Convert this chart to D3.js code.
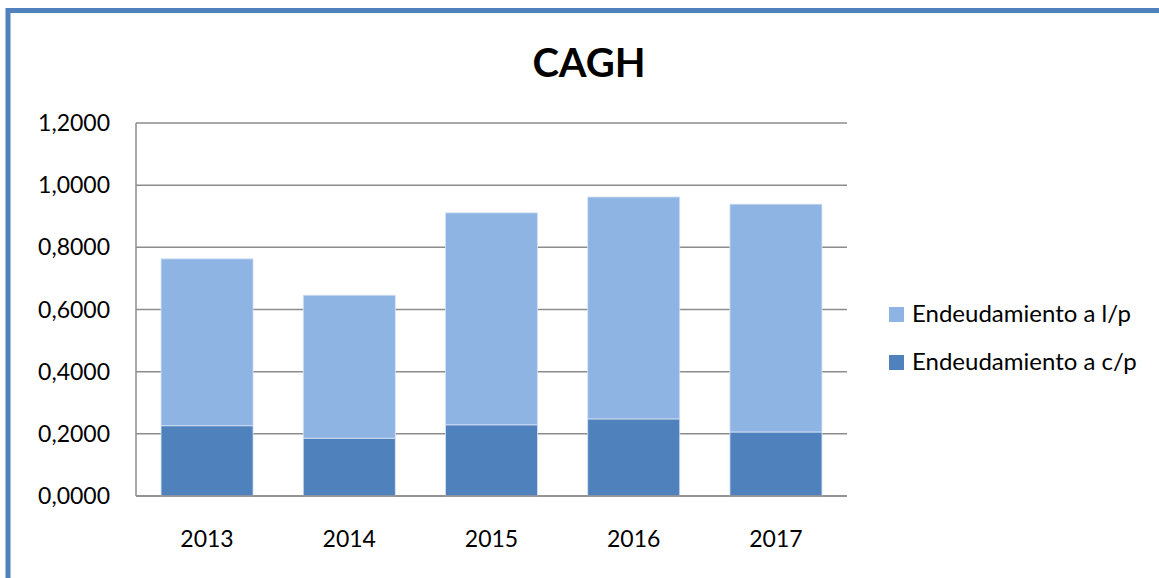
<!DOCTYPE html>
<html>
<head>
<meta charset="utf-8">
<script src="https://cdn.jsdelivr.net/npm/d3@7"></script>
<style>
    body { margin: 0; background: #fff; }
    svg text { font-family: Lato, "Open Sans", sans-serif; fill: #000; }
</style>
</head>
<body>
<script>
            // chart data
            const years = ["2013", "2014", "2015", "2016", "2017"];
            const cortoPlazo = [0.226, 0.186, 0.229, 0.248, 0.206];   // Endeudamiento a c/p
            const largoPlazo = [0.537, 0.460, 0.682, 0.714, 0.733];   // Endeudamiento a l/p
            const yTicks = [0, 0.2, 0.4, 0.6, 0.8, 1.0, 1.2];
            const seriesNames = ["Endeudamiento a c/p", "Endeudamiento a l/p"];
            const seriesColors = ["#4f81bd", "#8eb4e3"];

            var width = 1159, height = 578;
            var margin = { left: 136, right: 312, top: 123, bottom: 82 };

            var svg = d3.select('body').append('svg')
                .attr('width', width)
                .attr('height', height);

            // outer frame, cut by the window on right and bottom
            svg.append('rect')
                .attr('x', 8).attr('y', 10.5)
                .attr('width', width + 40).attr('height', height + 40)
                .attr('fill', 'none')
                .attr('stroke', '#4f81bd')
                .attr('stroke-width', 5);

            const x = d3.scaleBand()
                .domain(years)
                .range([margin.left, width - margin.right])
                .paddingInner(0.353)
                .paddingOuter(0.176);

            const y = d3.scaleLinear()
                .domain([0, 1.2])
                .range([height - margin.bottom, margin.top]);

            const fmt = v => d3.format('.4f')(v).replace('.', ',');

            // grid lines
            const gGrid = svg.append('g');
            gGrid.selectAll('line')
                .data(yTicks)
                .join('line')
                .attr('x1', margin.left).attr('x2', width - margin.right)
                .attr('y1', d => y(d)).attr('y2', d => y(d))
                .attr('stroke', '#8c8c8c')
                .attr('stroke-width', 1.5);

            // stacked bars
            const rows = years.map((yr, i) => ({ year: yr, cp: cortoPlazo[i], lp: largoPlazo[i] }));
            const stack = d3.stack().keys(['cp', 'lp'])(rows);

            svg.append('g')
                .selectAll('g')
                .data(stack)
                .join('g')
                .attr('fill', (d, i) => seriesColors[i])
                .selectAll('rect')
                .data(d => d)
                .join('rect')
                .attr('x', d => x(d.data.year))
                .attr('width', x.bandwidth())
                .attr('y', d => y(d[1]))
                .attr('height', d => y(d[0]) - y(d[1]))
                .attr('stroke', '#d6e3f3')
                .attr('stroke-width', 0.8);

            // axes lines
            svg.append('line')
                .attr('x1', margin.left).attr('x2', margin.left)
                .attr('y1', y(1.2)).attr('y2', y(0))
                .attr('stroke', '#8c8c8c').attr('stroke-width', 1.5);
            svg.append('line')
                .attr('x1', margin.left).attr('x2', width - margin.right)
                .attr('y1', y(0)).attr('y2', y(0))
                .attr('stroke', '#8c8c8c').attr('stroke-width', 1.5);

            // y tick labels
            svg.append('g')
                .selectAll('text')
                .data(yTicks)
                .join('text')
                .attr('x', 110)
                .attr('y', d => y(d) + 8)
                .attr('text-anchor', 'end')
                .style('font-size', '23px')
                .text(fmt);

            // category labels
            svg.append('g')
                .selectAll('text')
                .data(years)
                .join('text')
                .attr('x', d => x(d) + x.bandwidth() / 2)
                .attr('y', 547)
                .attr('text-anchor', 'middle')
                .style('font-size', '23px')
                .text(d => d);

            // title
            svg.append('text')
                .attr('x', 589).attr('y', 77)
                .attr('text-anchor', 'middle')
                .style('font-size', '40px')
                .style('font-weight', 'bold')
                .text('CAGH');

            // legend, l/p first like the original
            const legendOrder = [1, 0];
            const gLegend = svg.append('g')
                .selectAll('g')
                .data(legendOrder)
                .join('g')
                .attr('transform', (d, i) => `translate(889, ${307 + i * 48})`);
            gLegend.append('rect')
                .attr('width', 15).attr('height', 15)
                .attr('fill', d => seriesColors[d]);
            gLegend.append('text')
                .attr('x', 23).attr('y', 15)
                .style('font-size', '24px')
                .text(d => seriesNames[d]);
</script>
</body>
</html>
